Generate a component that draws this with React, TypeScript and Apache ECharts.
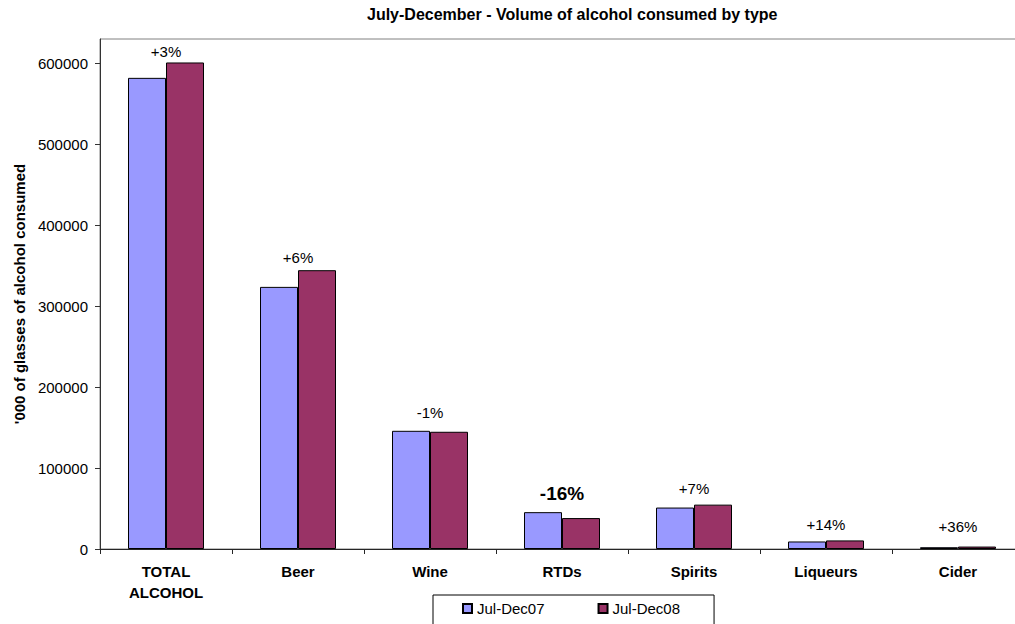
import React, { useEffect, useRef } from "react";
import * as echarts from "echarts";

// Volume of alcohol consumed, '000 of glasses, July–December
const categories = ["TOTAL\nALCOHOL", "Beer", "Wine", "RTDs", "Spirits", "Liqueurs", "Cider"];
const julDec07 = [582000, 323800, 146000, 45500, 51200, 9300, 2200];
const julDec08 = [601000, 344400, 144800, 38200, 54800, 10600, 3000];
const changeLabels = ["+3%", "+6%", "-1%", "-16%", "+7%", "+14%", "+36%"];
const yTicks = [0, 100000, 200000, 300000, 400000, 500000, 600000];

// Styling of the change annotations (lift above the bar, highlighted one)
const labelLift = [3, 5.5, 12, 15.5, 9, 8, 13];
const highlighted = 3;

const FONT = "'Liberation Sans', Arial, Helvetica, sans-serif";

export default function App() {
  const ref = useRef<HTMLDivElement>(null);

  useEffect(() => {
    if (!ref.current) return;
    const chart = echarts.init(ref.current, undefined, { renderer: "svg" });
    chart.setOption({
      animation: false,
      backgroundColor: "#ffffff",
      textStyle: { fontFamily: FONT, color: "#000" },
      title: {
        text: "July-December - Volume of alcohol consumed by type",
        left: 367,
        top: 6,
        padding: 0,
        textStyle: { fontFamily: FONT, fontSize: 16, fontWeight: "bold", color: "#000" },
      },
      legend: {
        data: ["Jul-Dec07", "Jul-Dec08"],
        left: 433,
        top: 595,
        orient: "horizontal",
        icon: "rect",
        itemWidth: 9,
        itemHeight: 9,
        itemGap: 53,
        padding: [6, 34, 14, 29],
        borderColor: "#000",
        borderWidth: 1,
        textStyle: { fontFamily: FONT, fontSize: 15, color: "#000" },
      },
      grid: {
        left: 100,
        top: 39,
        width: 924,
        height: 510,
        show: true,
        borderColor: "#808080",
        borderWidth: 1,
        containLabel: false,
      },
      xAxis: {
        type: "category",
        data: categories,
        boundaryGap: true,
        axisLine: { lineStyle: { color: "#262626", width: 1 } },
        axisTick: { show: true, length: 5, alignWithLabel: false, lineStyle: { color: "#262626" } },
        axisLabel: {
          interval: 0,
          margin: 12,
          fontFamily: FONT,
          fontSize: 15,
          fontWeight: "bold",
          lineHeight: 21,
          color: "#000",
        },
        splitLine: { show: false },
      },
      yAxis: {
        type: "value",
        min: 0,
        max: 630000,
        name: "'000 of glasses of alcohol consumed",
        nameLocation: "middle",
        nameGap: 72,
        nameTextStyle: { fontFamily: FONT, fontSize: 15, fontWeight: "bold", color: "#000" },
        axisLine: { show: true, lineStyle: { color: "#333", width: 1 } },
        axisTick: { show: true, length: 5, customValues: yTicks, lineStyle: { color: "#333" } },
        axisLabel: {
          customValues: yTicks,
          margin: 12,
          formatter: (v: number) => String(v),
          fontFamily: FONT,
          fontSize: 15,
          color: "#000",
        },
        splitLine: { show: false },
      },
      series: [
        {
          name: "Jul-Dec07",
          type: "bar",
          data: julDec07,
          barWidth: 38,
          barGap: "0%",
          itemStyle: { color: "#9999FF", borderColor: "#000", borderWidth: 1 },
        },
        {
          name: "Jul-Dec08",
          type: "bar",
          barWidth: 38,
          barGap: "0%",
          itemStyle: { color: "#993366", borderColor: "#000", borderWidth: 1 },
          data: julDec08.map((v, i) => ({
            value: v,
            label: {
              show: true,
              position: "top",
              distance: labelLift[i],
              offset: [-19, 0],
              formatter: changeLabels[i],
              fontFamily: FONT,
              fontSize: i === highlighted ? 19 : 15,
              fontWeight: i === highlighted ? "bold" : "normal",
              color: "#000",
            },
          })),
        },
      ],
    });
    return () => chart.dispose();
  }, []);

  return (
    <div
      style={{
        position: "fixed",
        left: 0,
        top: 0,
        width: 1015,
        height: 624,
        overflow: "hidden",
        background: "#fff",
      }}
    >
      <div ref={ref} style={{ width: 1030, height: 624 }} />
    </div>
  );
}
